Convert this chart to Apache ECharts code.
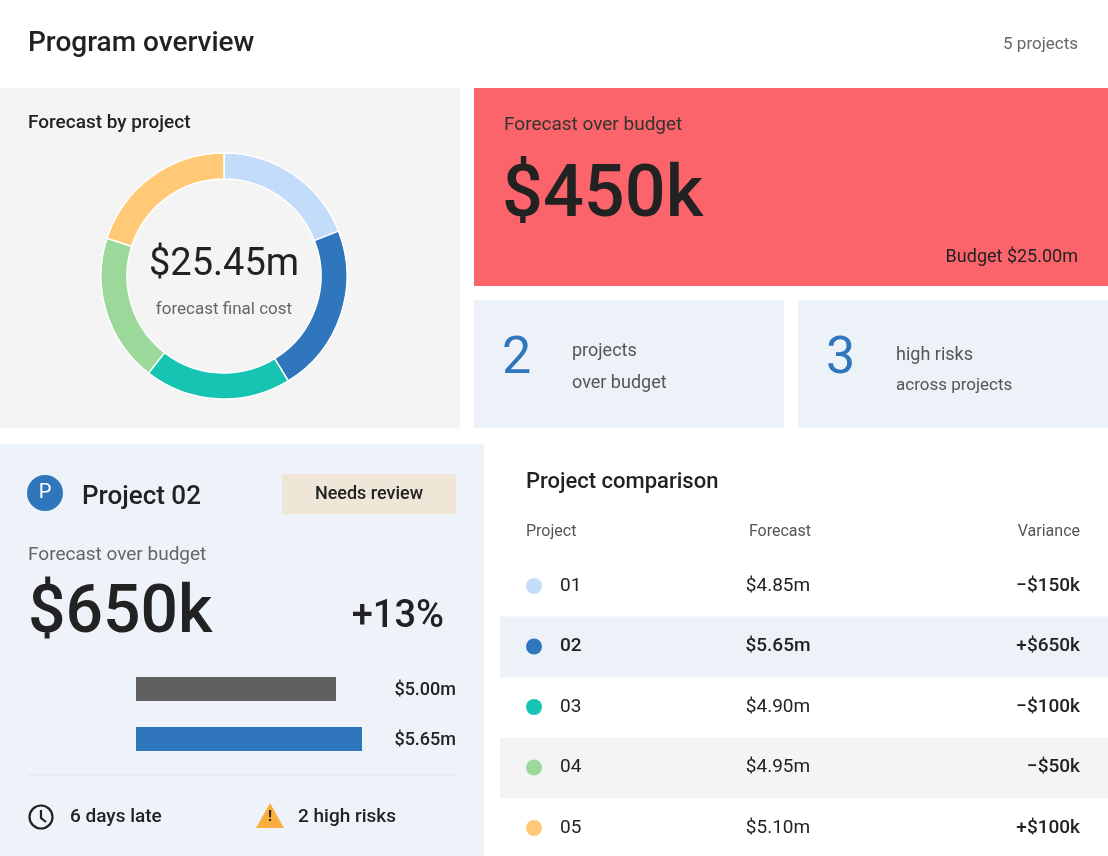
<!DOCTYPE html>
<html>
<head>
    <meta charset="utf-8" />
    <title>Program overview</title>
    <script src="https://cdn.jsdelivr.net/npm/echarts@6/dist/echarts.min.js"></script>
    <style>
        html, body { margin: 0; padding: 0; background: #fff; }
    </style>
</head>
<body>
    <div style="width:1108px;height:856px;" id="echart"></div>
</body>
</html>
<script>
    // data
    var projects = ['01', '02', '03', '04', '05'];
    var forecasts = [4.85, 5.65, 4.90, 4.95, 5.10];
    var variances = ['\u2212$150k', '+$650k', '\u2212$100k', '\u2212$50k', '+$100k'];
    var colors = ['#c2dcfa', '#2f76bd', '#17c3b2', '#9bd89a', '#ffc976'];
    var barLabels = ['Budget', 'Forecast'];
    var barValues = [5.00, 5.65];
    var barColors = ['#606060', '#2f76bd'];

    var FONT = 'Roboto, "Noto Sans", sans-serif';
    var chart = echarts.init(document.getElementById('echart'));

    function txt(x, y, s, size, color, opt) {
        opt = opt || {};
        return {
            type: 'text', x: x, y: y, z: 10,
            style: {
                text: s, fontSize: size, fill: color || '#222', fontFamily: FONT,
                fontWeight: opt.w || 'normal', textAlign: opt.a || 'left', textVerticalAlign: 'middle'
            }
        };
    }
    function box(x, y, w, h, fill) {
        return { type: 'rect', shape: { x: x, y: y, width: w, height: h }, style: { fill: fill }, z: 1 };
    }

    var g = [
        txt(28, 44, 'Program overview', 28, '#222', { w: 500 }),
        txt(1078, 45, '5 projects', 17, '#666', { a: 'right' }),
        // donut panel
        box(0, 88, 460, 340, '#f4f4f4'),
        txt(28, 123, 'Forecast by project', 19, '#222', { w: 500 }),
        txt(224, 265, '$25.45m', 38, '#222', { a: 'center' }),
        txt(224, 310, 'forecast final cost', 17, '#666', { a: 'center' }),
        // red card
        box(474, 88, 634, 198, '#fa646a'),
        txt(504, 125, 'Forecast over budget', 19, '#333'),
        txt(502, 198, '$450k', 72, '#222', { w: 500 }),
        txt(1078, 257, 'Budget $25.00m', 18, '#222', { a: 'right' }),
        // small cards
        box(474, 300, 310, 128, '#edf2f9'),
        txt(502, 360, '2', 52, '#2f76bd'),
        txt(572, 351, 'projects', 18, '#555'),
        txt(572, 383, 'over budget', 18, '#555'),
        box(798, 300, 310, 128, '#edf2f9'),
        txt(826, 360, '3', 52, '#2f76bd'),
        txt(896, 355, 'high risks', 18, '#555'),
        txt(896, 386, 'across projects', 17, '#555'),
        // project card
        box(0, 444, 484, 412, '#eef3fa'),
        { type: 'circle', shape: { cx: 45, cy: 493, r: 18 }, style: { fill: '#2f76bd' }, z: 5 },
        txt(45, 493, 'P', 20, '#fff', { a: 'center' }),
        txt(82, 497, 'Project 02', 26, '#222', { w: 500 }),
        box(282, 474, 174, 40, '#efe6d8'),
        txt(369, 494, 'Needs review', 18, '#222', { a: 'center', w: 500 }),
        txt(28, 555, 'Forecast over budget', 19, '#666'),
        txt(28, 615, '$650k', 66, '#222', { w: 500 }),
        txt(444, 617, '+13%', 38, '#222', { a: 'right', w: 500 }),
        { type: 'line', shape: { x1: 28, y1: 775, x2: 456, y2: 775 }, style: { stroke: '#e4e6ea', lineWidth: 1 }, z: 5 },
        { type: 'circle', shape: { cx: 41, cy: 817, r: 11.5 }, style: { fill: 'none', stroke: '#222', lineWidth: 2.2 }, z: 5 },
        { type: 'polyline', shape: { points: [[41, 810], [41, 818], [46, 822]] }, style: { stroke: '#222', lineWidth: 2.2, fill: 'none' }, z: 5 },
        txt(70, 817, '6 days late', 19, '#222', { w: 500 }),
        { type: 'polygon', shape: { points: [[270, 803], [284, 828], [256, 828]] }, style: { fill: '#f9ae3d' }, z: 5 },
        txt(270, 817, '!', 15, '#222', { a: 'center', w: 700 }),
        txt(298, 817, '2 high risks', 19, '#222', { w: 500 }),
        // table
        txt(526, 482, 'Project comparison', 22, '#222', { w: 500 }),
        txt(526, 532, 'Project', 16, '#555'),
        txt(780, 532, 'Forecast', 16, '#555', { a: 'center' }),
        txt(1080, 532, 'Variance', 16, '#555', { a: 'right' })
    ];

    projects.forEach(function (p, i) {
        var cy = 586 + i * 60.5;
        var bold = i === 1 ? 700 : 'normal';
        if (i === 1) g.push(box(500, cy - 30, 608, 61, '#edf2f9'));
        if (i === 3) g.push(box(500, cy - 30, 608, 61, '#f4f4f4'));
        g.push({ type: 'circle', shape: { cx: 534, cy: cy, r: 8 }, style: { fill: colors[i] }, z: 5 });
        g.push(txt(560, cy, p, 19, '#222', { w: bold === 700 ? 500 : 'normal' }));
        g.push(txt(778, cy, '$' + forecasts[i].toFixed(2) + 'm', 19, '#222', { a: 'center', w: bold === 700 ? 500 : 'normal' }));
        g.push(txt(1080, cy, variances[i], 19, '#222', { a: 'right', w: 500 }));
    });

    var option = {
        animation: false,
        backgroundColor: '#fff',
        graphic: { elements: g },
        grid: { left: 136, top: 664, width: 240, height: 100 },
        xAxis: { type: 'value', min: 0, max: 6, show: false },
        yAxis: {
            type: 'category', inverse: true, data: barLabels,
            axisLine: { show: false }, axisTick: { show: false },
            axisLabel: { show: true, margin: 108, align: 'left', fontSize: 16, color: '#555', fontFamily: FONT }
        },
        series: [
            {
                type: 'pie', center: [224, 276], radius: [97, 123], startAngle: 90, clockwise: true,
                label: { show: false }, labelLine: { show: false }, silent: true,
                itemStyle: { borderColor: '#fff', borderWidth: 1.5 },
                data: projects.map(function (p, i) { return { name: p, value: forecasts[i], itemStyle: { color: colors[i] } }; })
            },
            {
                type: 'bar', barWidth: 24, silent: true,
                data: barValues.map(function (v, i) { return { value: v, itemStyle: { color: barColors[i] } }; })
            }
        ]
    };
    // value labels at the right edge of the card
    barValues.forEach(function (v, i) {
        g.push(txt(456, 690 + i * 50, '$' + v.toFixed(2) + 'm', 18, '#222', { a: 'right', w: 500 }));
    });
    chart.setOption(option);
</script>
